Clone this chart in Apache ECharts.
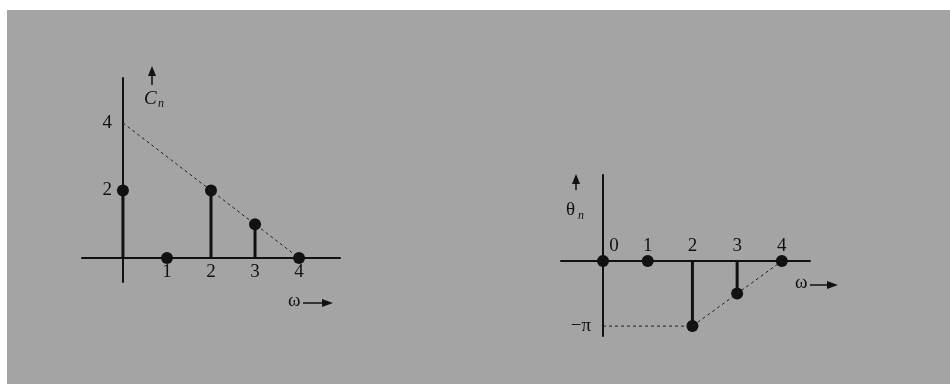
<!DOCTYPE html>
<html>
<head>
<meta charset="utf-8">
<script src="https://cdn.jsdelivr.net/npm/echarts@6/dist/echarts.min.js"></script>
<style>
  html, body { margin: 0; padding: 0; background: #fff; }
  #chart { width: 950px; height: 384px; }
</style>
</head>
<body>
<div id="chart"></div>
<script>
const PI = Math.PI;
const omega = [0, 1, 2, 3, 4];
const cn = [2, 0, 2, 1, 0];
const thetaN = [0, 0, -PI, -PI / 2, 0];
const cnEnvelope = [[0, 4], [4, 0]];
const thetaEnvelope = [[0, -PI], [2, -PI], [4, 0]];
const cnXTicks = [1, 2, 3, 4];
const cnYTicks = [2, 4];
const thetaXTicks = [0, 1, 2, 3, 4];
const thetaYTicks = [-PI];

const serif = '"Liberation Serif", "DejaVu Serif", serif';
const ink = '#111';

const chart = echarts.init(document.getElementById('chart'));

function stemItem(params, api) {
  const p0 = api.coord([api.value(0), 0]);
  const p1 = api.coord([api.value(0), api.value(1)]);
  return {
    type: 'line',
    shape: { x1: p0[0], y1: p0[1], x2: p1[0], y2: p1[1] },
    style: { stroke: ink, lineWidth: 3 }
  };
}

function axisBase(extra) {
  return Object.assign({
    type: 'value',
    splitLine: { show: false },
    axisTick: { show: false },
    axisLine: { onZero: true, lineStyle: { color: ink, width: 2 } }
  }, extra);
}

function arrowUp(x, yTop, yBot) {
  return [
    { type: 'line', shape: { x1: x, y1: yTop + 6, x2: x, y2: yBot }, style: { stroke: ink, lineWidth: 1.5 } },
    { type: 'polygon', shape: { points: [[x, yTop], [x - 4, yTop + 10], [x + 4, yTop + 10]] }, style: { fill: ink } }
  ];
}
function arrowRight(xL, xR, y) {
  return [
    { type: 'line', shape: { x1: xL, y1: y, x2: xR - 6, y2: y }, style: { stroke: ink, lineWidth: 1.5 } },
    { type: 'polygon', shape: { points: [[xR, y], [xR - 11, y - 4], [xR - 11, y + 4]] }, style: { fill: ink } }
  ];
}
function label(text, x, y, italic) {
  return {
    type: 'text', x: x, y: y,
    style: { text: text, fill: ink, font: (italic ? 'italic ' : '') + '19px ' + serif }
  };
}

const option = {
  backgroundColor: '#fff',
  animation: false,
  graphic: [
    { type: 'rect', z: -10, shape: { x: 7, y: 10, width: 943, height: 374 }, style: { fill: '#a4a4a4' } },
    ...arrowUp(152, 66, 85),
    label('C', 144, 89, true),
    { type: 'text', x: 158, y: 98, style: { text: 'n', fill: ink, font: 'italic 12px ' + serif } },
    label('ω', 288, 292, false),
    ...arrowRight(303, 333, 303),
    ...arrowUp(576, 174, 190),
    label('θ', 566, 201, false),
    { type: 'text', x: 578, y: 210, style: { text: 'n', fill: ink, font: 'italic 12px ' + serif } },
    label('ω', 795, 274, false),
    ...arrowRight(810, 838, 285)
  ],
  grid: [
    { left: 82, top: 78, width: 258, height: 204 },
    { left: 561, top: 175, width: 249, height: 161 }
  ],
  xAxis: [
    axisBase({
      gridIndex: 0, min: -0.93, max: 4.93,
      axisLabel: { customValues: cnXTicks, margin: -19, color: ink, fontFamily: serif, fontSize: 19 }
    }),
    axisBase({
      gridIndex: 1, min: -0.94, max: 4.63,
      axisLabel: {
        customValues: thetaXTicks, inside: true, margin: 80, color: ink, fontFamily: serif, fontSize: 19,
        formatter: v => v === 0 ? '{z|0}' : String(v),
        rich: { z: { padding: [0, 0, 0, 22], fontFamily: serif, fontSize: 19, color: ink } }
      }
    })
  ],
  yAxis: [
    axisBase({
      gridIndex: 0, min: -0.71, max: 5.33,
      axisLabel: { customValues: cnYTicks, margin: -30, color: ink, fontFamily: serif, fontSize: 19 }
    }),
    axisBase({
      gridIndex: 1, min: -3.62, max: 4.16,
      axisLabel: {
        customValues: thetaYTicks, margin: -30, color: ink, fontFamily: serif, fontSize: 19,
        formatter: () => '−π'
      }
    })
  ],
  series: [
    {
      type: 'line', xAxisIndex: 0, yAxisIndex: 0, data: cnEnvelope, symbol: 'none',
      lineStyle: { color: '#222', width: 1, type: [3, 3] }
    },
    {
      type: 'custom', xAxisIndex: 0, yAxisIndex: 0, renderItem: stemItem,
      data: omega.map((w, i) => [w, cn[i]])
    },
    {
      type: 'scatter', xAxisIndex: 0, yAxisIndex: 0, symbolSize: 12,
      itemStyle: { color: ink, opacity: 1 }, data: omega.map((w, i) => [w, cn[i]])
    },
    {
      type: 'line', xAxisIndex: 1, yAxisIndex: 1, data: thetaEnvelope, symbol: 'none',
      lineStyle: { color: '#222', width: 1, type: [3, 3] }
    },
    {
      type: 'custom', xAxisIndex: 1, yAxisIndex: 1, renderItem: stemItem,
      data: omega.map((w, i) => [w, thetaN[i]])
    },
    {
      type: 'scatter', xAxisIndex: 1, yAxisIndex: 1, symbolSize: 12,
      itemStyle: { color: ink, opacity: 1 }, data: omega.map((w, i) => [w, thetaN[i]])
    }
  ]
};

chart.setOption(option);
</script>
</body>
</html>
